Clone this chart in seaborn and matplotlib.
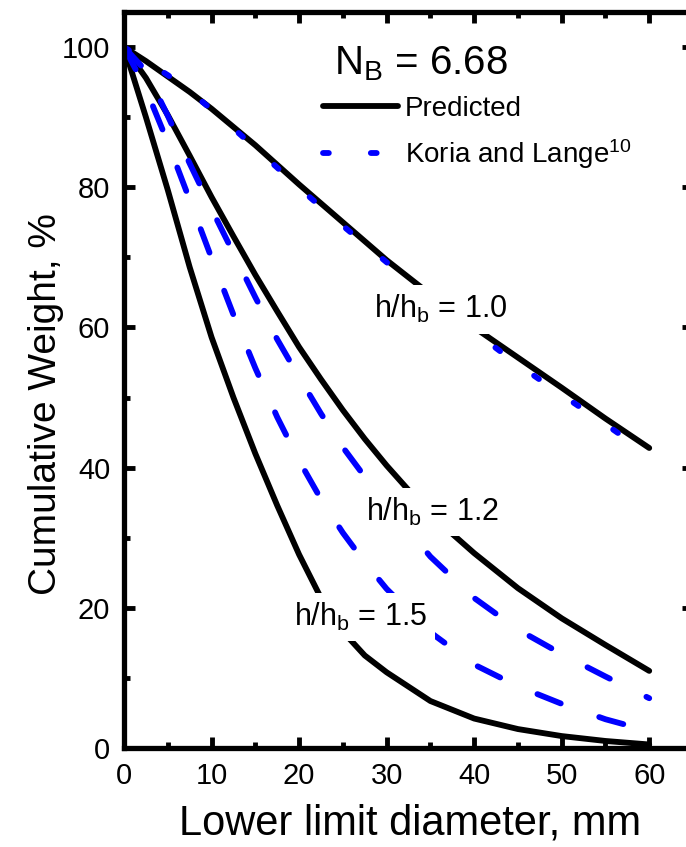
import matplotlib
matplotlib.use("Agg")
import matplotlib.pyplot as plt
import seaborn as sns
import pandas as pd

# Lower limit diameter (mm)
diameter = [0, 2.5, 5, 7.5, 10, 12.5, 15, 17.5, 20, 22.5, 25, 27.5, 30, 35, 40, 45, 50, 55, 60]

# Predicted cumulative weight (%)
pred_h10 = [100, 98.0, 95.8, 93.6, 91.2, 88.6, 86.0, 83.2, 80.4, 77.7, 75.0, 72.3, 69.6, 64.7, 60.0, 55.7, 51.4, 47.0, 42.8]
pred_h12 = [100, 95.6, 90.3, 84.5, 78.6, 73.0, 67.5, 62.3, 57.2, 52.6, 48.2, 44.1, 40.3, 33.3, 27.8, 22.8, 18.5, 14.7, 11.0]
pred_h15 = [100, 90.0, 79.6, 68.6, 58.6, 50.0, 42.0, 34.6, 27.6, 21.4, 16.6, 13.2, 10.8, 6.7, 4.2, 2.7, 1.7, 1.0, 0.5]

# Koria and Lange cumulative weight (%)
kl_h10 = [100, 98.0, 96.0, 93.7, 91.1, 88.4, 85.6, 82.8, 79.9, 77.2, 74.5, 71.9, 69.3, 64.3, 59.4, 54.7, 50.4, 46.2, 41.8]
kl_h12 = [100, 96.6, 90.2, 83.4, 76.9, 70.6, 64.3, 58.3, 52.9, 47.7, 42.9, 38.7, 34.8, 27.3, 21.4, 16.9, 13.4, 10.2, 7.1]
kl_h15 = [100, 94.0, 86.4, 78.2, 69.9, 61.8, 54.2, 47.2, 41.0, 35.5, 30.7, 26.5, 22.7, 16.5, 11.9, 8.8, 6.3, 4.1, 2.4]

ratio_labels = ["1.0", "1.2", "1.5"]
n_b = "6.68"

sns.set_style("ticks")
plt.rcParams["font.family"] = ["Liberation Sans", "DejaVu Sans"]
plt.rcParams["mathtext.fontset"] = "custom"
plt.rcParams["mathtext.rm"] = "Liberation Sans"
plt.rcParams["mathtext.it"] = "Liberation Sans:italic"
plt.rcParams["mathtext.default"] = "regular"
for key in ["text.color", "axes.labelcolor", "xtick.color", "ytick.color", "axes.edgecolor"]:
    plt.rcParams[key] = "black"

fig = plt.figure(figsize=(6.86, 8.47), dpi=100)
ax = fig.add_axes([0.1808, 0.1169, 0.8294, 0.8689])

LW = 4.2
dotted = (0, (1.0, 7.2))
dashed = (0, (4.3, 7.0))

df = pd.DataFrame({"d": diameter,
                   "p10": pred_h10, "p12": pred_h12, "p15": pred_h15,
                   "k10": kl_h10, "k12": kl_h12, "k15": kl_h15})

common = dict(ax=ax, solid_capstyle="round", dash_capstyle="round",
              solid_joinstyle="round", legend=False)
sns.lineplot(data=df, x="d", y="p10", color="black", lw=LW, zorder=2, label="Predicted", **common)
sns.lineplot(data=df, x="d", y="p12", color="black", lw=LW, zorder=2, **common)
sns.lineplot(data=df, x="d", y="p15", color="black", lw=LW, zorder=2, **common)
sns.lineplot(data=df, x="d", y="k10", color="#0000ff", lw=LW, linestyle=dotted, zorder=2.5,
             label="Koria and Lange$^{10}$", **common)
sns.lineplot(data=df, x="d", y="k12", color="#0000ff", lw=LW, linestyle=dashed, zorder=2.5, **common)
sns.lineplot(data=df, x="d", y="k15", color="#0000ff", lw=LW, linestyle=dashed, zorder=2.5, **common)

ax.set_xlim(0, 65)
ax.set_ylim(0, 105)
ax.set_xticks([0, 10, 20, 30, 40, 50, 60])
ax.set_yticks([0, 20, 40, 60, 80, 100])
ax.set_xticks(range(5, 65, 10), minor=True)
ax.set_yticks(range(10, 105, 20), minor=True)
ax.tick_params(which="both", direction="in", top=True, right=True, width=3.5, color="black")
ax.tick_params(which="major", length=8, labelsize=21, pad=10)
ax.tick_params(which="minor", length=4)
for s in ax.spines.values():
    s.set_linewidth(3.8)
    s.set_color("black")

ax.set_xlabel("Lower limit diameter, mm", fontsize=30)
ax.set_ylabel("Cumulative Weight, %", fontsize=28)
ax.xaxis.set_label_coords(0.502, -0.076)
ax.yaxis.set_label_coords(-0.105, 0.467)

ax.text(33.9, 96.1, "N$_B$ = " + n_b, fontsize=29, ha="center", va="baseline")

box = dict(facecolor="white", edgecolor="none", pad=6)
ax.text(36.2, 61.3, "h/h$_b$ = " + ratio_labels[0], fontsize=22, ha="center", va="baseline", bbox=box, zorder=5)
ax.text(35.2, 32.4, "h/h$_b$ = " + ratio_labels[1], fontsize=22, ha="center", va="baseline", bbox=box, zorder=5)
ax.text(27.0, 17.4, "h/h$_b$ = " + ratio_labels[2], fontsize=22, ha="center", va="baseline", bbox=box, zorder=5)

ax.legend(loc="upper left", bbox_to_anchor=(0.3497, 0.886), frameon=False, fontsize=20,
          handlelength=2.7, handletextpad=0.25, labelspacing=0.55, borderpad=0, borderaxespad=0)

fig.savefig("out.png", dpi=100)
